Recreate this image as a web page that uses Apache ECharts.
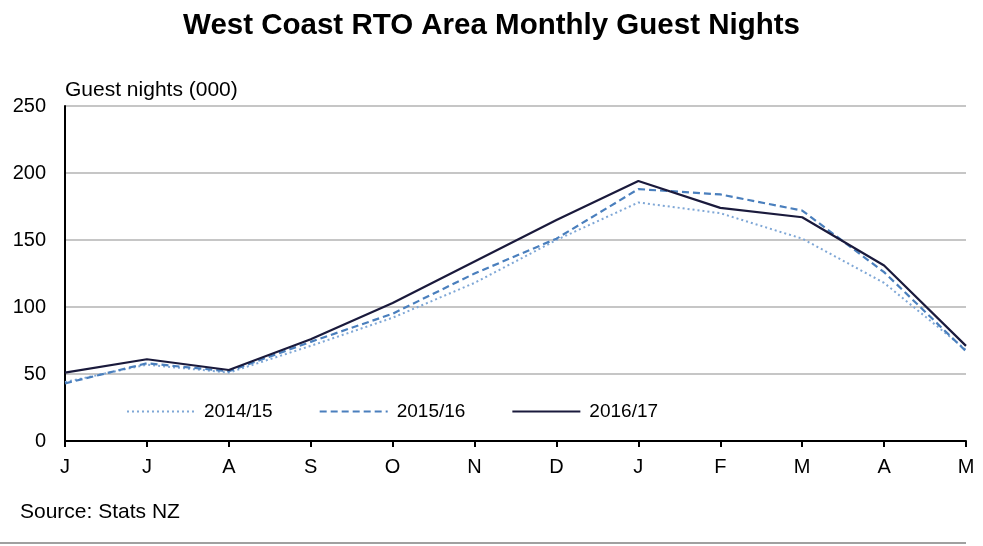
<!DOCTYPE html>
<html><head><meta charset="utf-8">
<script src="https://cdn.jsdelivr.net/npm/echarts@6/dist/echarts.min.js"></script>
<style>html,body{margin:0;padding:0;background:#fff}#c{width:983px;height:546px}</style>
</head><body><div id="c"></div>
<script>
var categories = ['J','J','A','S','O','N','D','J','F','M','A','M'];
var s1415 = [44, 57, 51, 71, 92, 118, 150, 178, 170, 151, 118, 68];
var s1516 = [43, 58, 52, 74, 95, 125, 151, 188, 184, 172, 126, 67];
var s1617 = [51, 61, 53, 76, 103, 134, 165, 194, 174, 167, 131, 71];
var yTicks = [0, 50, 100, 150, 200, 250];

var FONT = 'Liberation Sans, Arial, sans-serif';
var chart = echarts.init(document.getElementById('c'));
chart.setOption({
  animation: false,
  backgroundColor: '#fff',
  title: {
    text: 'West Coast RTO Area Monthly Guest Nights',
    left: 'center', top: 6,
    textStyle: {fontFamily: FONT, fontSize: 29.5, fontWeight: 'bold', color: '#000'}
  },
  grid: {left: 65, right: 17, top: 106, bottom: 105},
  legend: {
    top: 397, left: 121,
    itemWidth: 68, itemHeight: 10, itemGap: 46,
    itemStyle: {opacity: 0},
    textStyle: {fontFamily: FONT, fontSize: 19, color: '#000', padding: [0, 0, 0, 4]},
    data: ['2014/15', '2015/16', '2016/17']
  },
  xAxis: {
    type: 'category', data: categories, boundaryGap: false,
    axisLine: {lineStyle: {color: '#000', width: 2}},
    axisTick: {show: true, length: 6, lineStyle: {color: '#000', width: 2}},
    axisLabel: {fontFamily: FONT, fontSize: 20, color: '#000', margin: 16, interval: 0},
    splitLine: {show: false}
  },
  yAxis: {
    type: 'value', min: yTicks[0], max: yTicks[yTicks.length-1], interval: 50,
    name: 'Guest nights (000)', nameLocation: 'end', nameGap: 5,
    nameTextStyle: {fontFamily: FONT, fontSize: 21, color: '#000', align: 'left'},
    axisLine: {show: true, lineStyle: {color: '#000', width: 2}},
    axisTick: {show: false},
    axisLabel: {fontFamily: FONT, fontSize: 20, color: '#000', margin: 19},
    splitLine: {lineStyle: {color: '#c6c6c6', width: 2}}
  },
  series: [
    {name: '2014/15', type: 'line', data: s1415, symbol: 'none', z: 2,
     lineStyle: {color: '#7fa7d6', width: 2, type: [2, 3]}, itemStyle: {color: '#7fa7d6'}},
    {name: '2015/16', type: 'line', data: s1516, symbol: 'none', z: 3,
     lineStyle: {color: '#4a7fbd', width: 2.2, type: [7, 4]}, itemStyle: {color: '#4a7fbd'}},
    {name: '2016/17', type: 'line', data: s1617, symbol: 'none', z: 4,
     lineStyle: {color: '#1a1a3c', width: 2.2, type: 'solid'}, itemStyle: {color: '#1a1a3c'}}
  ],
  graphic: [
    {type: 'text', left: 20, top: 502, style: {text: 'Source: Stats NZ', fontFamily: FONT, fontSize: 21, fill: '#000'}},
    {type: 'line', shape: {x1: 0, y1: 543, x2: 966, y2: 543}, style: {stroke: '#a0a0a0', lineWidth: 2}}
  ]
});
</script></body></html>
